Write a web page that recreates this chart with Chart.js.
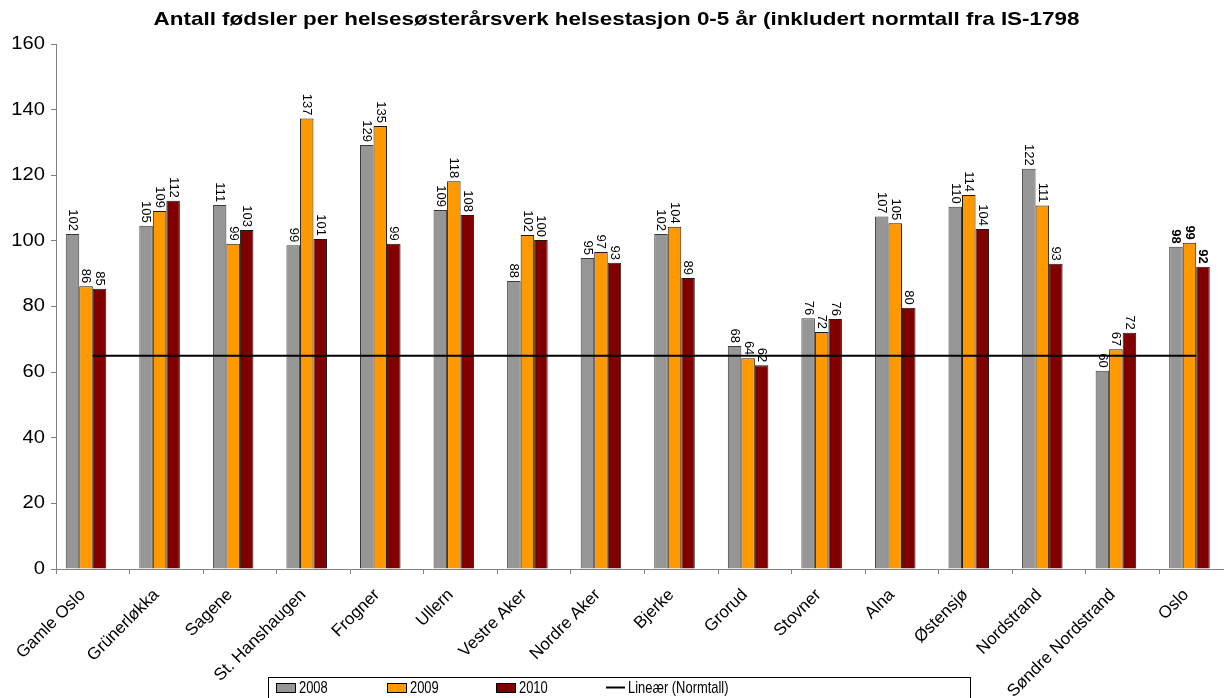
<!DOCTYPE html>
<html>
<head>
<meta charset="utf-8">
<script src="https://cdn.jsdelivr.net/npm/chart.js@4/dist/chart.umd.min.js"></script>
<style>
html,body{margin:0;padding:0;background:#fff;overflow:hidden;}
#wrap{width:1233px;height:698px;position:relative;}
</style>
</head>
<body>
<div id="wrap"><canvas id="c" width="1233" height="698"></canvas></div>
<script>
const titleText = 'Antall fødsler per helsesøsterårsverk helsestasjon 0-5 år (inkludert normtall fra IS-1798';
const categories = ['Gamle Oslo','Grünerløkka','Sagene','St. Hanshaugen','Frogner','Ullern','Vestre Aker','Nordre Aker','Bjerke','Grorud','Stovner','Alna','Østensjø','Nordstrand','Søndre Nordstrand','Oslo'];
const values2008 = [102.1,104.6,110.9,98.7,129.2,109.4,87.8,94.8,102.1,68.0,76.4,107.4,110.4,122.0,60.4,98.2];
const values2009 = [86.2,109.1,99.1,137.3,135.0,118.2,101.8,96.6,104.3,64.2,72.2,105.4,114.0,110.8,67.0,99.4];
const values2010 = [85.4,112.2,103.3,100.6,99.1,107.9,100.3,93.3,88.7,62.1,76.2,79.6,103.6,93.0,72.0,92.1];
const normtall = [65,65,65,65,65,65,65,65,65,65,65,65,65,65,65,65];
const yTicks = {min:0,max:160,step:20};
const seriesNames = ['2008','2009','2010','Normtall','Lineær (Normtall)'];

const FONT = 'Liberation Sans, Arial, sans-serif';

const labelPlugin = {
  id:'barLabels',
  afterDatasetsDraw(chart){
    const ctx = chart.ctx;
    chart.data.datasets.forEach((ds,di)=>{
      if(ds.type==='line' || ds.noLabel) return;
      const meta = chart.getDatasetMeta(di);
      meta.data.forEach((el,i)=>{
        const v = ds.data[i];
        const bold = i===categories.length-1;
        ctx.save();
        ctx.translate(el.x, el.y-3);
        ctx.rotate(Math.PI/2);
        ctx.font = (bold?'bold ':'')+'13px '+FONT;
        ctx.fillStyle = '#000';
        ctx.textAlign = 'right';
        ctx.textBaseline = 'middle';
        ctx.fillText(String(Math.round(v)),0,0);
        ctx.restore();
      });
    });
  }
};

const stretchPlugin = {
  id:'stretchText',
  beforeDraw(chart){
    const tb = chart.titleBlock;
    if(tb && !tb._wrapped){
      const orig = tb.draw.bind(tb);
      tb.draw = function(){
        const ctx = chart.ctx;
        const cx = chart.width/2;
        ctx.save();
        ctx.translate(cx,0);ctx.scale(1.18,1);ctx.translate(-cx,0);
        orig();
        ctx.restore();
      };
      tb._wrapped = true;
    }
    const ys = chart.scales.y;
    if(ys && !ys._wrapped){
      const origL = ys.drawLabels.bind(ys);
      ys.drawLabels = function(area){
        const ctx = chart.ctx;
        const ax = ys.right - 5 - 6;
        ctx.save();
        ctx.translate(ax,0);ctx.scale(1.12,1);ctx.translate(-ax,0);
        origL(area);
        ctx.restore();
      };
      ys._wrapped = true;
    }
  }
};

const legendPlugin = {
  id:'boxLegend',
  afterDraw(chart){
    const ctx = chart.ctx;
    ctx.save();
    ctx.strokeStyle = '#000';
    ctx.lineWidth = 1;
    ctx.strokeRect(268.5,677.5,702,30);
    const xs = [276,387,496,606];
    ctx.font = '17px '+FONT;
    ctx.textBaseline = 'middle';
    ctx.textAlign = 'left';
    const items = chart.data.datasets.filter(ds=>!ds.noLegend);
    items.forEach((ds,i)=>{
      const x = xs[i];
      let tx;
      if(ds.type==='line'){
        ctx.strokeStyle = ds.borderColor;
        ctx.lineWidth = 2;
        ctx.beginPath();ctx.moveTo(x,687.5);ctx.lineTo(x+19,687.5);ctx.stroke();
        tx = x+22;
      } else {
        ctx.fillStyle = ds.backgroundColor;
        ctx.fillRect(x,683,19,9);
        ctx.strokeStyle = '#000';
        ctx.lineWidth = 1;
        ctx.strokeRect(x+0.5,683.5,19,9);
        tx = x+23;
      }
      ctx.save();
      ctx.translate(tx,688);ctx.scale(0.76,1);
      ctx.fillStyle='#000';
      ctx.fillText(ds.label,0,0);
      ctx.restore();
    });
    ctx.restore();
  }
};

new Chart(document.getElementById('c'),{
  type:'bar',
  data:{
    labels:categories,
    datasets:[
      {type:'bar',label:seriesNames[0],data:values2008,backgroundColor:'#969696',borderColor:'#3a3a3a',borderWidth:1,order:1},
      {type:'bar',label:seriesNames[1],data:values2009,backgroundColor:'#FF9900',borderColor:'#1a1a1a',borderWidth:1,order:1},
      {type:'bar',label:seriesNames[2],data:values2010,backgroundColor:'#800000',borderColor:'#1a1a1a',borderWidth:1,order:1},
      {type:'bar',label:seriesNames[3],data:normtall,backgroundColor:'rgba(0,0,0,0)',borderColor:'rgba(0,0,0,0)',borderWidth:0,order:2,noLabel:true,noLegend:true},
      {type:'line',label:seriesNames[4],data:normtall,borderColor:'#000',borderWidth:2,pointRadius:0,fill:false,order:0}
    ]
  },
  options:{
    responsive:false,
    animation:false,
    datasets:{bar:{categoryPercentage:0.735,barPercentage:1.0}},
    layout:{padding:{left:0,right:0,top:0,bottom:0}},
    plugins:{
      legend:{display:false},
      tooltip:{enabled:false},
      title:{display:true,text:titleText,color:'#000',font:{family:FONT,size:19,weight:'bold',lineHeight:1.2},padding:{top:8,bottom:13.2}}
    },
    scales:{
      x:{
        offset:true,
        grid:{display:true,drawOnChartArea:false,offset:true,tickLength:5,color:'#808080'},
        border:{color:'#808080',width:1},
        ticks:{color:'#000',font:{family:FONT,size:17},maxRotation:45,minRotation:45,autoSkip:false,padding:11,labelOffset:-10},
        afterFit(s){s.height=129;}
      },
      y:{
        min:yTicks.min,max:yTicks.max,
        grid:{display:true,drawOnChartArea:false,tickLength:5,color:'#808080'},
        border:{color:'#808080',width:1},
        ticks:{stepSize:yTicks.step,color:'#000',font:{family:FONT,size:18},padding:6},
        afterFit(s){s.width=56;}
      }
    }
  },
  plugins:[labelPlugin,stretchPlugin,legendPlugin]
});
</script>
</body>
</html>
